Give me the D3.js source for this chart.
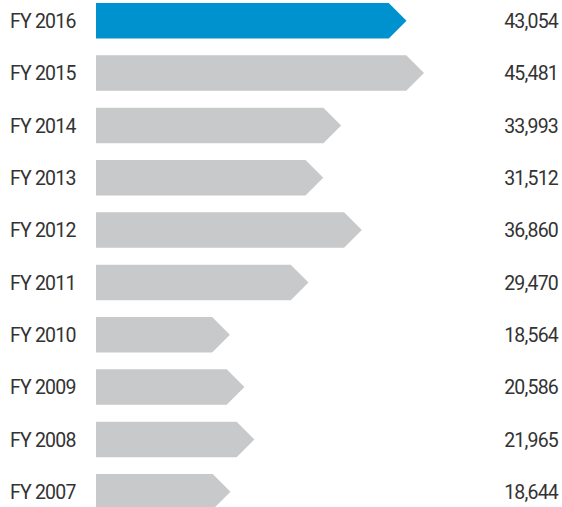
<!DOCTYPE html>
<html><head><meta charset="utf-8">
<script src="https://cdn.jsdelivr.net/npm/d3@7"></script>
<style>html,body{margin:0;padding:0;background:#fff;}svg{display:block;}</style>
</head><body>
<script>
const categories = ["FY 2016","FY 2015","FY 2014","FY 2013","FY 2012","FY 2011","FY 2010","FY 2009","FY 2008","FY 2007"];
const values = [43054,45481,33993,31512,36860,29470,18564,20586,21965,18644];
const valueLabels = ["43,054","45,481","33,993","31,512","36,860","29,470","18,564","20,586","21,965","18,644"];

const W = 562, H = 507;
const svg = d3.select("body").append("svg").attr("width", W).attr("height", H);

const x = d3.scaleLinear().domain([0, 45481]).range([96, 424]);
const y = d3.scaleBand().domain(categories).range([3, 509.5]).paddingInner(0.3216).paddingOuter(0);

const font = "Roboto, 'Open Sans', sans-serif";
const data = categories.map((c, i) => ({c, v: values[i], lab: valueLabels[i], i}));

svg.selectAll("path.bar").data(data).enter().append("path")
  .attr("class", "bar")
  .attr("fill", d => d.i === 0 ? "#0092CF" : "#C8C9CA")
  .attr("d", d => {
    const t = y(d.c), h = y.bandwidth(), b = t + h, m = t + h / 2;
    const x0 = x(0), xt = x(d.v), xb = xt - h / 2;
    return `M${x0},${t}L${xb},${t}L${xt},${m}L${xb},${b}L${x0},${b}Z`;
  });

svg.selectAll("text.cat").data(data).enter().append("text")
  .attr("class", "cat")
  .attr("x", 10).attr("y", d => y(d.c) + y.bandwidth() / 2)
  .attr("dy", "0.37em")
  .attr("font-family", font).attr("font-size", 19.5).attr("letter-spacing", "-0.8")
  .attr("fill", "#333").text(d => d.c);

svg.selectAll("text.val").data(data).enter().append("text")
  .attr("class", "val")
  .attr("x", 558).attr("y", d => y(d.c) + y.bandwidth() / 2)
  .attr("dy", "0.37em").attr("text-anchor", "end")
  .attr("font-family", font).attr("font-size", 19.5).attr("letter-spacing", "-0.8")
  .attr("fill", "#333").text(d => d.lab);
</script>
</body></html>
